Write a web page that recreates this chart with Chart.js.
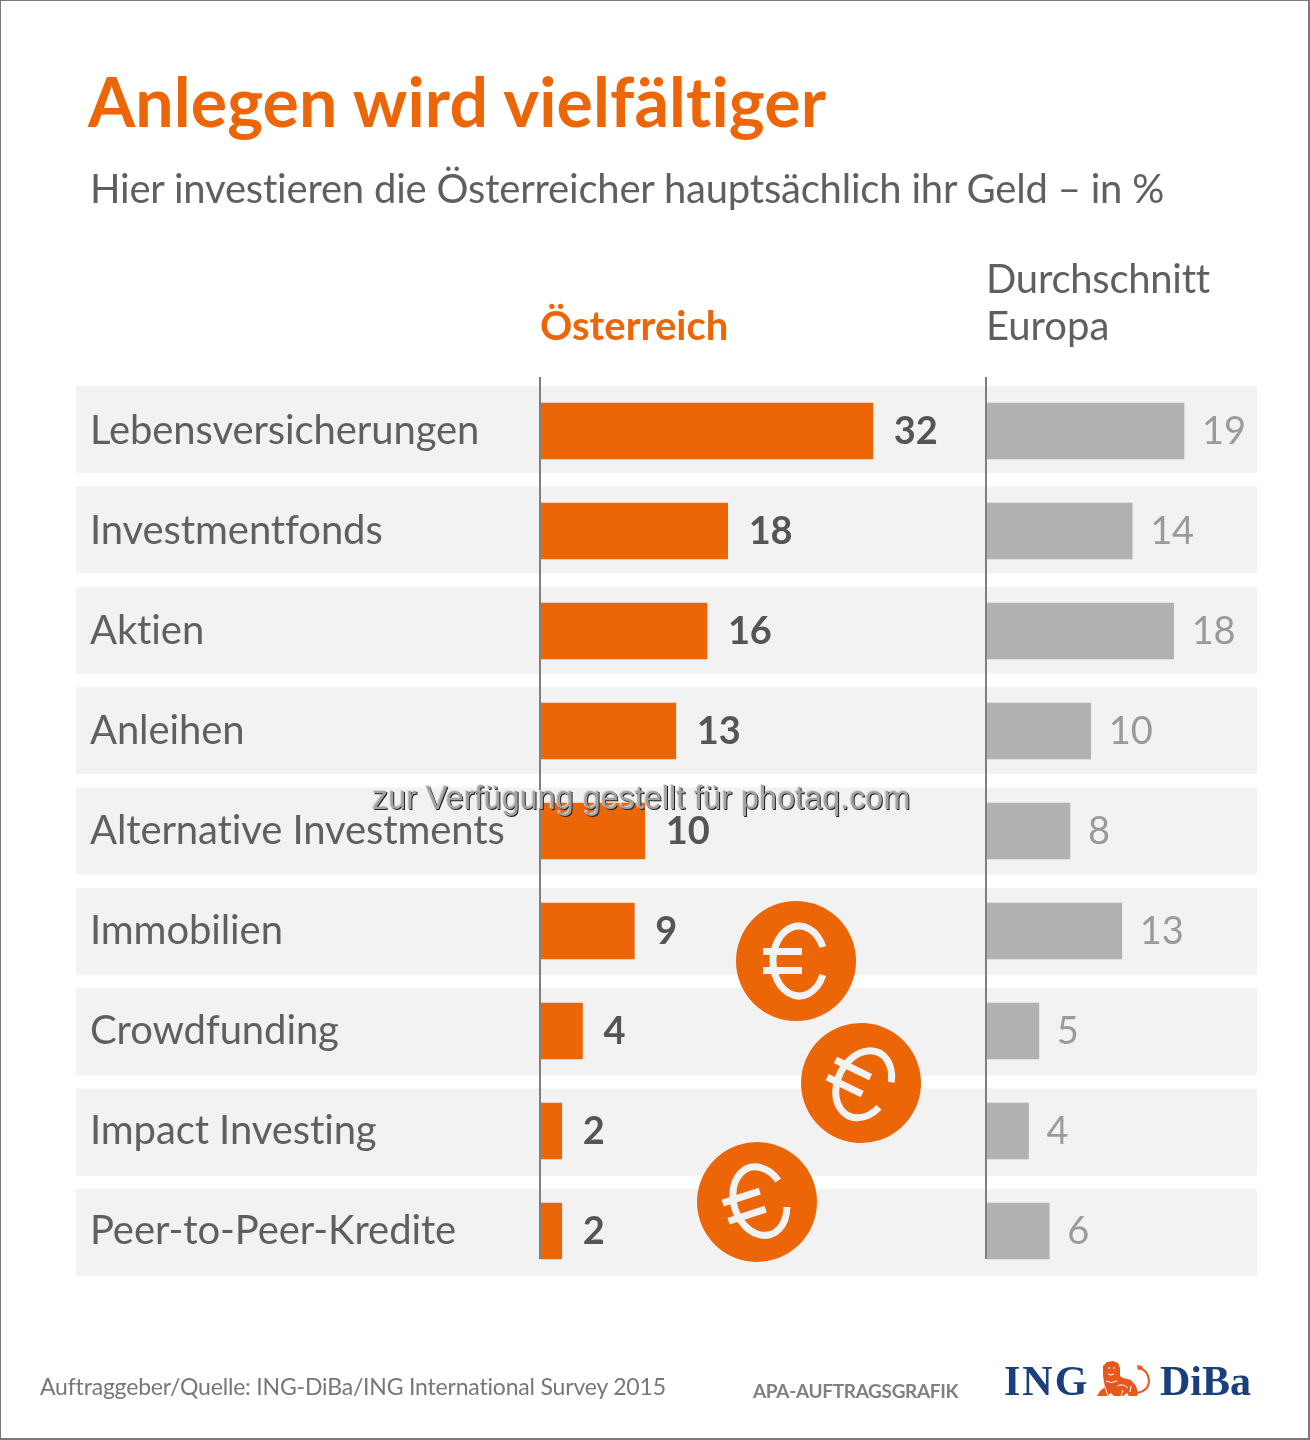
<!DOCTYPE html>
<html lang="de">
<head>
<meta charset="utf-8">
<title>Anlegen wird vielfältiger</title>
<script src="https://cdn.jsdelivr.net/npm/chart.js@4/dist/chart.umd.js"></script>
<style>
  html, body { margin: 0; padding: 0; background: #fff; }
  #page { position: relative; width: 1310px; height: 1440px; overflow: hidden; font-family: Lato, sans-serif; font-variant-ligatures: none; }
  #frame { position: absolute; left: 0; top: 0; width: 1307px; height: 1437px; border: 1px solid #7a7a7a; border-width: 1px 2px 2px 1px; }
  canvas { position: absolute; left: 0; top: 0; }
  .t { position: absolute; white-space: nowrap; line-height: 1; }
  #title { left: 88px; top: 67px; font-size: 68px; font-weight: 700; color: #ec6608; letter-spacing: 0.12px; }
  #subtitle { left: 90px; top: 168px; font-size: 40px; color: #5f5f5f; letter-spacing: -0.2px; }
  #headAT { left: 540px; top: 305px; font-size: 40px; font-weight: 700; color: #ec6608; }
  #headEU1 { left: 986px; top: 258px; font-size: 40px; color: #5f5f5f; letter-spacing: -0.25px; }
  #headEU2 { left: 986px; top: 305px; font-size: 40px; color: #5f5f5f; }
  #source { left: 40px; top: 1375px; font-size: 23px; color: #777; letter-spacing: -0.19px; }
  #apa { left: 753px; top: 1381px; font-size: 19px; font-weight: 700; color: #808080; letter-spacing: -0.33px; }
  #ing { left: 1004px; top: 1360px; font-family: "Liberation Serif", serif; font-size: 42px; font-weight: 700; color: #1b3f7c; letter-spacing: 2px; }
  #diba { left: 1160px; top: 1360px; font-family: "Liberation Serif", serif; font-size: 42px; font-weight: 700; color: #1b3f7c; }
  #lion { position: absolute; left: 1097px; top: 1360px; }
  #mark { left: 372px; top: 782px; font-family: "Liberation Sans", sans-serif; font-size: 32.4px; color: #a2a2a2; text-shadow: 1px 1px 0 #222, -1px -1px 0 #dcdcdc; }
</style>
</head>
<body>
<div id="page">
  <canvas id="chart" width="1310" height="1440"></canvas>
  <div id="frame"></div>
  <div class="t" id="title">Anlegen wird vielfältiger</div>
  <div class="t" id="subtitle">Hier investieren die Österreicher hauptsächlich ihr Geld – in %</div>
  <div class="t" id="headAT">Österreich</div>
  <div class="t" id="headEU1">Durchschnitt</div>
  <div class="t" id="headEU2">Europa</div>
  <div class="t" id="source">Auftraggeber/Quelle: ING-DiBa/ING International Survey 2015</div>
  <div class="t" id="apa">APA-AUFTRAGSGRAFIK</div>
  <div class="t" id="ing">ING</div>
  <svg id="lion" width="58" height="38" viewBox="0 0 58 38">
    <path fill="none" stroke="#e8581c" stroke-width="2" d="M38 33 Q52 32 52 20 Q51 11 43 8"/>
    <path fill="#e8581c" d="M40 5 L45 6 L46 9 L41 10 Z"/>
    <path fill="#e8581c" d="M0 36 L3 31 L8 27 L6 16 L6 6 L10 2 L16 1 L21 3 L23 8 L23 16 L26 18 L34 20 L39 26 L41 33 L40 36 L32 36 L30 33 L26 36 L17 36 L14 33 L10 36 Z"/>
    <path fill="none" stroke="#fff" stroke-width="1" d="M11 8 h2 M16 8 h2 M11 14 q3 2 6 0 M9 21 q5 3 11 0 M8 27 l3 9 M20 26 q6 -3 11 2 M26 30 l-2 6 M34 26 l-1 6"/>
  </svg>
  <div class="t" id="diba">DiBa</div>
  <div class="t" id="mark">zur Verfügung gestellt für photaq.com</div>
</div>
<script>
const categories = ['Lebensversicherungen', 'Investmentfonds', 'Aktien', 'Anleihen', 'Alternative Investments', 'Immobilien', 'Crowdfunding', 'Impact Investing', 'Peer-to-Peer-Kredite'];
const austria = [32, 18, 16, 13, 10, 9, 4, 2, 2];
const europe = [19, 14, 18, 10, 8, 13, 5, 4, 6];

const ORANGE = '#ec6608';
const GREY_BAR = '#b1b1b1';
const ROW_BG = '#f2f2f2';
const TEXT = '#5f5f5f';

// both panels use about 10.37px per percent point
const atMax = 446 / 10.37;
const euMax = 270 / 10.37;

// Grey row strips, have to go below the axis labels
const rowStrips = {
  id: 'rowStrips',
  beforeDraw(chart) {
    const { ctx, scales } = chart;
    ctx.letterSpacing = '-0.1px'; // also turns off the Lato ti ligature
    ctx.save();
    ctx.fillStyle = ROW_BG;
    categories.forEach((c, i) => {
      const y = scales.y.getPixelForValue(i);
      ctx.fillRect(76, y - 45 + i * 0.37, 1181, 87);
    });
    ctx.restore();
  },
};

// Baselines + value labels + euro coins
const overlays = {
  id: 'overlays',
  afterDatasetsDraw(chart) {
    const { ctx, scales } = chart;
    const yEnd = scales.y.getPixelForValue(categories.length - 1) + 28;

    ctx.save();
    ctx.strokeStyle = '#7f7f7f';
    ctx.lineWidth = 2;
    [scales.xAT, scales.xEU].forEach(s => {
      const x = s.getPixelForValue(0) - 1;
      ctx.beginPath();
      ctx.moveTo(x, 377);
      ctx.lineTo(x, yEnd);
      ctx.stroke();
    });

    ctx.textBaseline = 'middle';
    ctx.textAlign = 'left';
    chart.getDatasetMeta(0).data.forEach((bar, i) => {
      ctx.font = '700 38px Lato, sans-serif';
      ctx.fillStyle = '#555';
      ctx.fillText(austria[i], bar.x + 21, bar.y + 1);
    });
    chart.getDatasetMeta(1).data.forEach((bar, i) => {
      ctx.font = '400 38px Lato, sans-serif';
      ctx.fillStyle = '#9a9a9a';
      ctx.fillText(europe[i], bar.x + 18, bar.y + 1);
    });

    drawCoin(ctx, 796, 961, 0);
    drawCoin(ctx, 861, 1083, 26);
    drawCoin(ctx, 757, 1202, -18);
    ctx.restore();
  },
};

function drawCoin(ctx, cx, cy, deg) {
  ctx.save();
  ctx.translate(cx, cy);
  ctx.rotate(deg * Math.PI / 180);
  ctx.fillStyle = ORANGE;
  ctx.beginPath();
  ctx.arc(0, 0, 60, 0, Math.PI * 2);
  ctx.fill();

  const a = 0.41;
  ctx.strokeStyle = '#f2f2f2';
  ctx.lineWidth = 7;
  ctx.beginPath();
  ctx.ellipse(3, 0, 26, 35, 0, a, Math.PI * 2 - a);
  ctx.stroke();

  ctx.fillStyle = '#f2f2f2';
  ctx.fillRect(-33, -13, 39, 7);
  ctx.fillRect(-33, 6, 39, 7);
  ctx.restore();
}

new Chart(document.getElementById('chart').getContext('2d'), {
  type: 'bar',
  data: {
    labels: categories,
    datasets: [
      { label: 'Österreich', data: austria, xAxisID: 'xAT', backgroundColor: ORANGE },
      { label: 'Durchschnitt Europa', data: europe, xAxisID: 'xEU', backgroundColor: GREY_BAR },
    ],
  },
  options: {
    indexAxis: 'y',
    responsive: false,
    animation: false,
    devicePixelRatio: 1,
    grouped: false,
    barThickness: 56,
    layout: { padding: { left: 90, right: 53, top: 381, bottom: 159 } },
    plugins: { legend: { display: false }, tooltip: { enabled: false } },
    scales: {
      y: {
        type: 'category',
        grid: { display: false },
        border: { display: false },
        afterFit(scale) { scale.width = 451; },
        ticks: {
          crossAlign: 'far',
          padding: 0,
          color: TEXT,
          autoSkip: false,
          font: { family: 'Lato, sans-serif', size: 40 },
        },
      },
      xAT: {
        position: 'bottom', stack: 'panels', stackWeight: 446,
        min: 0, max: atMax, display: false, grid: { display: false },
      },
      xEU: {
        position: 'bottom', stack: 'panels', stackWeight: 270,
        min: 0, max: euMax, display: false, grid: { display: false },
      },
    },
  },
  plugins: [rowStrips, overlays],
});
</script>
</body>
</html>
